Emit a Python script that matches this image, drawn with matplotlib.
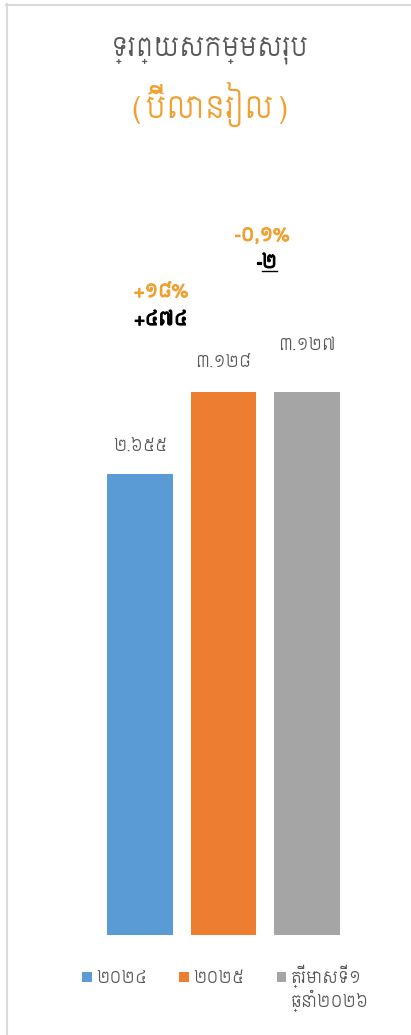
import matplotlib
matplotlib.use("Agg")
import matplotlib.pyplot as plt
import matplotlib.patheffects as pe
from matplotlib.lines import Line2D

# ── data ─────────────────────────────────────────────────────────────────
categories = ["២០២៤", "២០២៥", "ត្រីមាសទី១\nឆ្នាំ២០២៦"]
values = [2655, 3128, 3127]
value_labels = ["២.៦៥៥", "៣.១២៨", "៣.១២៧"]
colours = ["#5B9BD5", "#ED7D31", "#A5A5A5"]

change_pct = ["+១៨%", "-០,១%"]
change_abs = ["+៤៧៤", "២"]

title = "ទ្រព្យសកម្មសរុប"
subtitle = "(ប៊ីលានរៀល)"

KH = ["Siemreap", "DejaVu Sans"]
plt.rcParams["font.family"] = KH

W, H = 411, 1035
fig = plt.figure(figsize=(W / 100, H / 100), dpi=100, facecolor="white")

# axes placed in pixel terms: bars sit on y=935, centres at 140 / 224 / 307
base_px, top_px = 935, 200
left_px, right_px = 56.5, 390.5
ax = fig.add_axes([left_px / W, 1 - base_px / H,
                   (right_px - left_px) / W, (base_px - top_px) / H])
px_per_unit = 461 / 2655
ax.set_xlim(-1.0, 3.0)
ax.set_ylim(0, (base_px - top_px) / px_per_unit)
ax.axis("off")

xs = range(len(values))
bars = ax.bar(xs, values, width=0.79, color=colours)

# value labels above bars (pixel offsets -> points)
label_offsets = [27, 29, 47]
for x, v, lab, off in zip(xs, values, value_labels, label_offsets):
    ax.annotate(lab, (x, v), xytext=(0, off * 0.72), textcoords="offset points",
                ha="center", va="center", fontsize=11.5, color="#595959")


def note(text, x, v, off, colour, **kw):
    # Siemreap has no bold face -> fake it with a thin stroke
    return ax.annotate(text, (x, v), xytext=(0, off * 0.72),
                       textcoords="offset points", va="center",
                       fontsize=13, color=colour,
                       path_effects=[pe.withStroke(linewidth=0.9, foreground=colour)],
                       **kw)


# change annotations
note(change_pct[0], 0.25, values[0], 182, "#F0A030", ha="center")
note(change_abs[0], 0.25, values[0], 154, "black", ha="center")
note(change_pct[1], 1.46, values[1], 156, "#F0A030", ha="center")
note("-", 1.46, values[1], 129, "black", ha="right")
two = note(change_abs[1], 1.46, values[1], 129, "black", ha="left")

# titles
fig.text(210 / W, 1 - 50 / H, title, ha="center", va="center",
         fontsize=18.5, color="#595959")
fig.text(210 / W, 1 - 104 / H, subtitle, ha="center", va="center",
         fontsize=21.5, color="#F0A030")

# legend: first line of each label in the legend, second line added below
first_lines = [c.split("\n")[0] for c in categories]
leg = fig.legend(handles=bars, labels=first_lines, loc="upper center",
                 bbox_to_anchor=(222 / W, 1 - 950 / H), ncol=3, frameon=False,
                 fontsize=11.5, handlelength=0.6, handleheight=0.6,
                 handletextpad=0.3, columnspacing=2.0, labelcolor="#595959")

# chart-area border (top and left only visible)
fig.add_artist(Line2D([6 / W, 1], [1 - 4.5 / H] * 2, color="#D9D9D9", lw=1.5))
fig.add_artist(Line2D([6.5 / W] * 2, [0, 1 - 4 / H], color="#D9D9D9", lw=1.5))

fig.canvas.draw()
# underline below the "២"
bb = two.get_window_extent()
fig.add_artist(Line2D([bb.x0 / W, bb.x1 / W], [(bb.y0 + 1) / H] * 2,
                      color="black", lw=1))

# wrapped second line of the last legend label
for lab, txt in zip(categories, leg.get_texts()):
    if "\n" in lab:
        tb = txt.get_window_extent()
        fig.text(tb.x0 / W, (tb.y0 + tb.y1) / 2 / H - 25 / H, lab.split("\n")[1],
                 ha="left", va="center", fontsize=11.5, color="#595959")

fig.savefig("out.png", dpi=100, facecolor="white")
